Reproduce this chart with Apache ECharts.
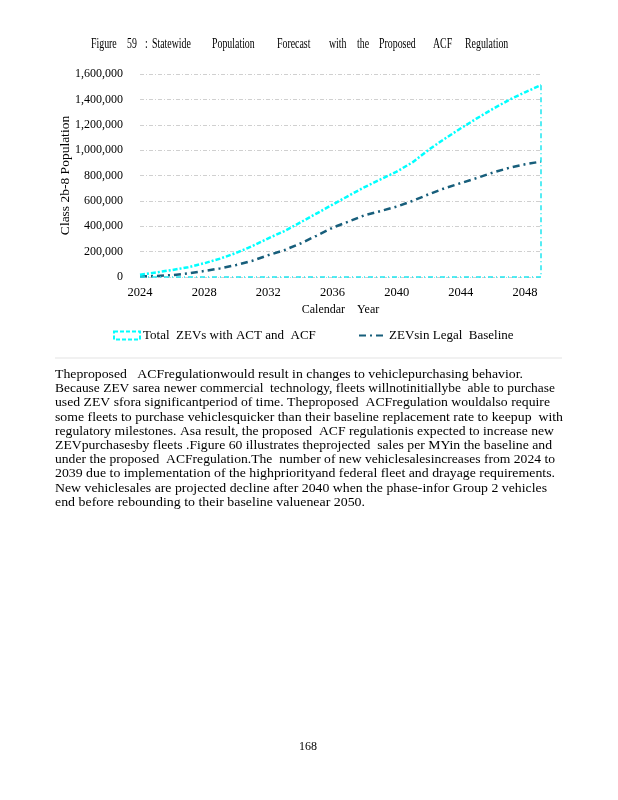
<!DOCTYPE html>
<html><head><meta charset="utf-8">
<script src="https://cdn.jsdelivr.net/npm/echarts@6/dist/echarts.min.js"></script>
<style>html,body{margin:0;padding:0;background:#fff}#c{width:618px;height:800px}</style>
</head><body><div id="c"></div>
<script>
// ---- data ----
const years = [2024,2025,2026,2027,2028,2029,2030,2031,2032,2033,2034,2035,2036,2037,2038,2039,2040,2041,2042,2043,2044,2045,2046,2047,2048,2049];
const totalZEVs = [18000,36000,55000,77000,108000,145000,190000,244000,305000,362000,430000,500000,570000,640000,708000,770000,830000,905000,1003000,1090000,1172000,1250000,1325000,1395000,1456000,1512000];
const baselineZEVs = [3000,8000,15000,28000,47000,68000,95000,128000,172000,212000,264000,325000,388000,437000,487000,520000,555000,600000,652000,700000,740000,780000,823000,860000,888000,910000];
const seriesNames = ['Total  ZEVs with ACT and  ACF', 'ZEVsin Legal  Baseline'];
const xTickStep = 4;
const yMin = 0, yMax = 1600000, yStep = 200000;
const titleWords = ['Figure','59',':','Statewide','Population','Forecast','with','the','Proposed','ACF','Regulation'];
const paragraphLines = [
 'Theproposed   ACFregulationwould result in changes to vehiclepurchasing behavior.',
 'Because ZEV sarea newer commercial  technology, fleets willnotinitiallybe  able to purchase',
 'used ZEV sfora significantperiod of time. Theproposed  ACFregulation wouldalso require',
 'some fleets to purchase vehiclesquicker than their baseline replacement rate to keepup  with',
 'regulatory milestones. Asa result, the proposed  ACF regulationis expected to increase new',
 'ZEVpurchasesby fleets .Figure 60 illustrates theprojected  sales per MYin the baseline and',
 'under the proposed  ACFregulation.The  number of new vehiclesalesincreases from 2024 to',
 '2039 due to implementation of the highpriorityand federal fleet and drayage requirements.',
 'New vehiclesales are projected decline after 2040 when the phase-infor Group 2 vehicles',
 'end before rebounding to their baseline valuenear 2050.'
];
const pageNumber = '168';

// ---- layout ----
const FONT = '"Liberation Serif", "Times New Roman", serif';
const titleX = [91,127,145,152,212,277,329,357,379,433,465];
const paraRight = [523,555,550,563,554,552,555,555,547,365];
const paraTop = 374.5, paraStep = 14.2, paraLeft = 55;

const cv = document.createElement('canvas').getContext('2d');

const graphics = [];
titleWords.forEach((w, i) => {
  graphics.push({type:'text', x: titleX[i], y: 44, scaleX: 0.68, silent: true,
    style:{text: w, x:0, y:0, fill:'#000', font:'14.5px ' + FONT, textAlign:'left', textVerticalAlign:'middle'}});
});
cv.font = '13px ' + FONT;
paragraphLines.forEach((t, i) => {
  const w = cv.measureText(t).width;
  const s = (paraRight[i] - paraLeft) / w;
  graphics.push({type:'text', x: paraLeft, y: paraTop + i*paraStep, scaleX: s, silent: true,
    style:{text: t, x:0, y:0, fill:'#000', font:'13px ' + FONT, textAlign:'left', textVerticalAlign:'middle'}});
});
graphics.push({type:'line', silent:true, shape:{x1:55,y1:358,x2:562,y2:358}, style:{stroke:'#e3e3e3', lineWidth:1}});
graphics.push({type:'text', x: 308, y: 747, silent:true,
  style:{text: pageNumber, fill:'#000', font:'12px ' + FONT, textAlign:'center', textVerticalAlign:'middle'}});

const n = years.length - 1;
const chart = echarts.init(document.getElementById('c'), null, {renderer:'canvas'});
chart.setOption({
  animation: false,
  backgroundColor: '#fff',
  graphic: graphics,
  grid: {left: 140, right: 77, top: 74, bottom: 523, containLabel: false},
  legend: [
    {left: 113, top: 329, padding: 0, itemWidth: 26, itemHeight: 8, selectedMode: false,
     textStyle:{fontFamily: FONT, fontSize: 13, color:'#000', padding:[0,0,0,-2]},
     data:[{name: seriesNames[0], icon:'rect', itemStyle:{color:'rgba(0,0,0,0)', borderColor:'#00ffff', borderWidth:2, borderType:[4,2]}}]},
    {left: 358, top: 329, padding: 0, itemWidth: 25, itemHeight: 8, selectedMode: false,
     textStyle:{fontFamily: FONT, fontSize: 13, color:'#000'},
     data:[{name: seriesNames[1], itemStyle:{opacity:0}}]}
  ],
  xAxis: {
    type:'value', min: years[0], max: years[n], interval: xTickStep,
    name: 'Calendar    Year', nameLocation:'middle', nameGap: 27,
    nameTextStyle:{fontFamily: FONT, fontSize: 12, color:'#000'},
    axisLine:{show:false}, axisTick:{show:false}, splitLine:{show:false},
    axisLabel:{fontFamily: FONT, fontSize: 12.5, color:'#000', margin: 9, showMaxLabel:false, formatter: v => String(v)}
  },
  yAxis: {
    type:'value', min: yMin, max: yMax, interval: yStep,
    name: 'Class 2b-8 Population', nameLocation:'middle', nameGap: 68, nameMoveOverlap: false,
    nameTextStyle:{fontFamily: FONT, fontSize: 13.5, color:'#000'},
    axisLine:{show:false}, axisTick:{show:false},
    splitLine:{show:true, lineStyle:{color:'#d0d0d0', width:1, type:[4,2,1,2]}},
    axisLabel:{fontFamily: FONT, fontSize: 12, color:'#000', margin: 17, formatter: v => v.toLocaleString('en-US')}
  },
  series: [
    {name: seriesNames[0], type:'line', symbol:'none', z:3,
     data: years.map((y,i)=>[y, totalZEVs[i]]),
     lineStyle:{color:'#00ffff', width:2.5, type:[5,2,2,2]},
     itemStyle:{color:'#00ffff'},
     markLine:{silent:true, symbol:'none', label:{show:false},
       lineStyle:{color:'#1ee6f0', width:1.5, type:[5,3,1,3]},
       data:[
         [{coord:[years[n], totalZEVs[n]]},{coord:[years[n], 0]}],
         [{coord:[years[0], 0]},{coord:[years[n], 0]}]
       ]}
    },
    {name: seriesNames[1], type:'line', symbol:'none', z:2,
     data: years.map((y,i)=>[y, baselineZEVs[i]]),
     lineStyle:{color:'#175e7b', width:2.5, type:[7,4,2,4]},
     itemStyle:{color:'#175e7b'}
    }
  ]
});
</script></body></html>
